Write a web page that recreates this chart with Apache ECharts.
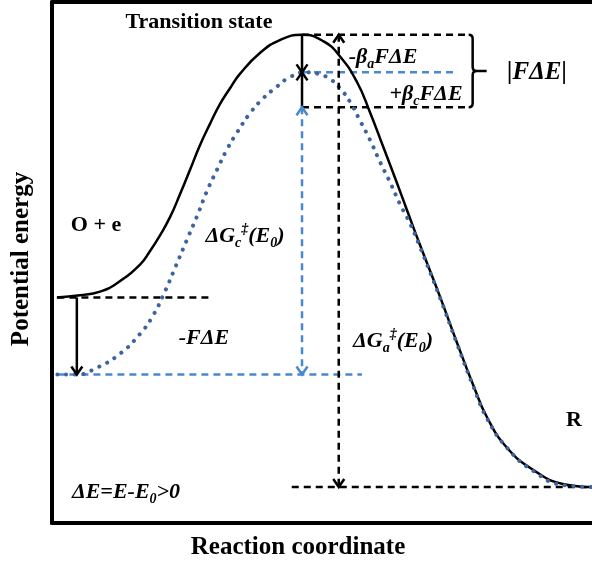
<!DOCTYPE html>
<html>
<head>
<meta charset="utf-8">
<script src="https://cdn.jsdelivr.net/npm/echarts@6/dist/echarts.min.js"></script>
<style>
  html, body { margin: 0; padding: 0; background: #ffffff; }
  #chart { width: 592px; height: 565px; }
</style>
</head>
<body>
<div id="chart"></div>
<script>
// Potential energy profile along the reaction coordinate (both axes 0-100, arbitrary units)

// Curve at the equilibrium potential E0 (O + e  ->  R)
const neutralX = [0.9, 5.2, 8.9, 12.0, 16.3, 18.1, 20.0, 21.9, 23.7, 25.6, 27.4, 29.3, 31.1, 33.0, 34.8, 38.5, 42.2, 46.3,
                  50.2, 53.3, 56.5, 58.9, 61.3, 63.9, 65.9, 68.1, 71.9, 75.0, 78.0, 80.6, 84.3, 89.1, 94.6, 100];
const neutralE = [43.3, 43.7, 44.4, 46.0, 49.6, 52.1, 55.2, 58.8, 63.1, 67.9, 72.5, 76.7, 80.4, 83.5, 86.2, 90.2, 92.7, 93.7,
                  92.5, 89.6, 84.6, 78.8, 72.3, 65.2, 59.6, 53.5, 43.3, 34.6, 26.5, 20.2, 14.4, 10.2, 7.5, 6.9];

// Curve after the potential step dE (oxidised side lowered by F dE)
const shiftedX = [1, 4.6, 8.3, 12.6, 16.3, 18.7, 20.9, 22.8, 25.0, 26.9, 28.7, 30.6, 32.4, 34.3, 36.7, 39.1, 41.7, 44.1,
                  46.9, 49.3, 51.5, 53.3, 55.2, 57.0, 58.9, 60.7, 62.6, 64.4, 66.3, 68.1, 71.9, 75.0, 78.0, 80.6,
                  84.3, 89.1, 94.6, 100];
const shiftedE = [28.5, 28.5, 29.8, 32.5, 36.3, 39.8, 44.4, 49.0, 54.4, 59.0, 63.7, 67.9, 71.7, 75.0, 78.7, 81.5, 83.8, 85.6,
                  86.5, 86.2, 85.2, 83.5, 80.8, 77.3, 73.5, 69.4, 65.4, 61.3, 57.5, 53.1, 43.1, 34.4, 26.3, 20.0,
                  14.4, 10.0, 7.3, 6.9];

// Horizontal reference levels: [energy, from x, to x]
const blackLevels = [[43.3, 1, 29.6], [93.7, 46.3, 77.4], [79.8, 46.3, 77.4], [6.9, 44.4, 100]];
const blueLevels = [[28.5, 1, 57.4], [86.5, 46.3, 75]];

// Vertical arrows: [x, start energy, end energy]
const solidArrows = [[4.6, 43.3, 28.5], [46.3, 93.7, 86.5], [46.3, 79.8, 86.5]];
const blueDoubleArrows = [[46.3, 79.8, 28.5]];
const blackDoubleArrows = [[53.1, 93.7, 6.9]];

// Brace spanning |F dE|: [x, top energy, bottom energy]
const braces = [[77.9, 93.7, 79.8]];

const SERIF = 'Liberation Serif';
const BLACK = '#000000';
const BLUE_DASH = '#4a88cf';
const BLUE_DOT = '#3d649f';

function levelRenderer(color) {
  return function (params, api) {
    const e = api.value(0);
    const a = api.coord([api.value(1), e]);
    const b = api.coord([api.value(2), e]);
    return {
      type: 'line',
      shape: { x1: a[0], y1: a[1], x2: b[0], y2: b[1] },
      style: { stroke: color, lineWidth: 2.5, lineDash: [7, 5], fill: 'none' }
    };
  };
}

function head(tip, from, color) {
  const dir = tip[1] > from[1] ? 1 : -1;
  return {
    type: 'polyline',
    shape: { points: [[tip[0] - 5.5, tip[1] - dir * 8], [tip[0], tip[1]], [tip[0] + 5.5, tip[1] - dir * 8]] },
    style: { stroke: color, lineWidth: 2.5, fill: 'none' }
  };
}

function arrowRenderer(color, dashed, both) {
  return function (params, api) {
    const x = api.value(0);
    const p1 = api.coord([x, api.value(1)]);
    const p2 = api.coord([x, api.value(2)]);
    const children = [{
      type: 'line',
      shape: { x1: p1[0], y1: p1[1], x2: p2[0], y2: p2[1] },
      style: { stroke: color, lineWidth: 2.5, lineDash: dashed ? [7, 5] : null, fill: 'none' }
    }, head(p2, p1, color)];
    if (both) children.push(head(p1, p2, color));
    return { type: 'group', children: children };
  };
}

function braceRenderer(params, api) {
  const x = api.value(0);
  const top = api.coord([x, api.value(1)]);
  const bot = api.coord([x, api.value(2)]);
  const midY = (top[1] + bot[1]) / 2;
  const r = 4;
  const path = 'M' + (top[0] - r) + ' ' + top[1] +
    ' Q' + top[0] + ' ' + top[1] + ' ' + top[0] + ' ' + (top[1] + r) +
    ' L' + top[0] + ' ' + (midY - r) +
    ' Q' + top[0] + ' ' + midY + ' ' + (top[0] + r) + ' ' + midY +
    ' L' + (top[0] + 14) + ' ' + midY +
    ' M' + (top[0] + r) + ' ' + midY +
    ' Q' + top[0] + ' ' + midY + ' ' + top[0] + ' ' + (midY + r) +
    ' L' + top[0] + ' ' + (bot[1] - r) +
    ' Q' + top[0] + ' ' + bot[1] + ' ' + (top[0] - r) + ' ' + bot[1];
  return {
    type: 'path',
    shape: { pathData: path },
    style: { stroke: BLACK, lineWidth: 2.5, fill: 'none' }
  };
}

const mathRich = {
  m: { fontFamily: SERIF, fontWeight: 'bold', fontStyle: 'italic', fontSize: 22, lineHeight: 28, fill: BLACK },
  s: { fontFamily: SERIF, fontWeight: 'bold', fontStyle: 'italic', fontSize: 14, lineHeight: 14, verticalAlign: 'bottom', fill: BLACK },
  p: { fontFamily: SERIF, fontWeight: 'bold', fontStyle: 'italic', fontSize: 14, lineHeight: 14, verticalAlign: 'top', fill: BLACK }
};

function plainText(text, x, y, size, rotation) {
  return {
    type: 'text', x: x, y: y, rotation: rotation || 0,
    style: {
      text: text, fill: BLACK,
      font: 'bold ' + size + 'px "' + SERIF + '"',
      align: 'center', verticalAlign: 'middle',
      textAlign: 'center', textVerticalAlign: 'middle'
    }
  };
}

function mathText(text, x, y) {
  return {
    type: 'text', x: x, y: y,
    style: {
      text: text, rich: mathRich, fill: BLACK,
      font: 'italic bold 22px "' + SERIF + '"',
      align: 'center', verticalAlign: 'middle',
      textAlign: 'center', textVerticalAlign: 'middle'
    }
  };
}

const chart = echarts.init(document.getElementById('chart'), null, { renderer: 'canvas' });

chart.setOption({
  animation: false,
  backgroundColor: '#ffffff',
  grid: { left: 52, right: 0, top: 2, bottom: 42 },
  xAxis: [
    {
      type: 'value', min: 0, max: 100, position: 'bottom',
      axisLine: { show: true, onZero: false, lineStyle: { color: BLACK, width: 4 } },
      axisTick: { show: false }, axisLabel: { show: false }, splitLine: { show: false }
    },
    {
      type: 'value', min: 0, max: 100, position: 'top',
      axisLine: { show: true, onZero: false, lineStyle: { color: BLACK, width: 4 } },
      axisTick: { show: false }, axisLabel: { show: false }, splitLine: { show: false }
    }
  ],
  yAxis: {
    type: 'value', min: 0, max: 100,
    axisLine: { show: true, onZero: false, lineStyle: { color: BLACK, width: 4 } },
    axisTick: { show: false }, axisLabel: { show: false }, splitLine: { show: false }
  },
  series: [
    {
      type: 'custom', name: 'black levels', data: blackLevels,
      renderItem: levelRenderer(BLACK), silent: true, z: 2
    },
    {
      type: 'custom', name: 'blue levels', data: blueLevels,
      renderItem: levelRenderer(BLUE_DASH), silent: true, z: 2
    },
    {
      type: 'line', name: 'E0', data: neutralX.map((x, i) => [x, neutralE[i]]),
      smooth: 0.5, showSymbol: false, silent: true,
      lineStyle: { color: BLACK, width: 2.5 }, z: 3
    },
    {
      type: 'line', name: 'E', data: shiftedX.map((x, i) => [x, shiftedE[i]]),
      smooth: 0.5, showSymbol: false, silent: true,
      lineStyle: { color: BLUE_DOT, width: 4, type: [0.1, 8.6], cap: 'round' }, z: 4
    },
    {
      type: 'custom', name: 'solid arrows', data: solidArrows,
      renderItem: arrowRenderer(BLACK, false, false), silent: true, z: 5
    },
    {
      type: 'custom', name: 'blue double arrows', data: blueDoubleArrows,
      renderItem: arrowRenderer(BLUE_DASH, true, true), silent: true, z: 5
    },
    {
      type: 'custom', name: 'black double arrows', data: blackDoubleArrows,
      renderItem: arrowRenderer(BLACK, true, true), silent: true, z: 5
    },
    {
      type: 'custom', name: 'brace', data: braces,
      renderItem: braceRenderer, silent: true, z: 5
    }
  ],
  graphic: [
    plainText('Transition state', 199, 22, 22),
    plainText('O + e', 96, 225, 22),
    plainText('R', 574, 420, 22),
    plainText('Reaction coordinate', 298, 548, 25),
    plainText('Potential energy', 22, 259, 25, Math.PI / 2),
    mathText('{m|ΔG}{s|c}{p|‡}{m|(E}{s|0}{m|)}', 245, 236),
    mathText('{m|-FΔE}', 204, 338),
    mathText('{m|ΔG}{s|a}{p|‡}{m|(E}{s|0}{m|)}', 393, 341),
    mathText('{m|-β}{s|a}{m|FΔE}', 383, 57),
    mathText('{m|+β}{s|c}{m|FΔE}', 426, 94),
    {
      type: 'text', x: 537, y: 73,
      style: {
        text: '|FΔE|', fill: BLACK, font: 'italic bold 25px "' + SERIF + '"',
        align: 'center', verticalAlign: 'middle', textAlign: 'center', textVerticalAlign: 'middle'
      }
    },
    mathText('{m|ΔE=E-E}{s|0}{m|>0}', 126, 492)
  ]
});
</script>
</body>
</html>
